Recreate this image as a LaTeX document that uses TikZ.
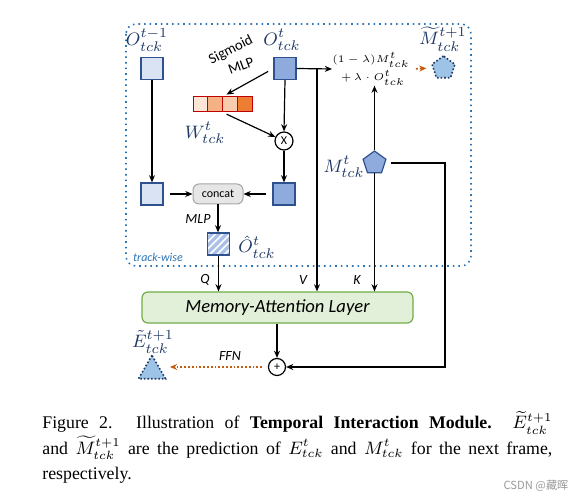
\documentclass[tikz,border=0pt]{standalone}
\usepackage{amsmath}
\usepackage{fontspec}
\setmainfont{Liberation Serif}
\newfontfamily\diagfont{Carlito}
\newfontfamily\cjkfont{Noto Sans CJK SC}
\usepackage{tikz}
\usetikzlibrary{shapes.geometric, arrows.meta, positioning, patterns.meta, calc}
\definecolor{featlight}{RGB}{218, 227, 243}
\definecolor{featmid}{RGB}{143, 170, 220}
\definecolor{feathatch}{RGB}{170, 192, 230}
\definecolor{featborder}{RGB}{47, 82, 143}
\definecolor{labelnavy}{RGB}{31, 56, 100}
\definecolor{trackblue}{RGB}{46, 117, 182}
\definecolor{predblue}{RGB}{157, 195, 230}
\definecolor{predorange}{RGB}{197, 90, 17}
\definecolor{layergreen}{RGB}{226, 240, 217}
\definecolor{layerborder}{RGB}{112, 173, 71}
\definecolor{concatgray}{RGB}{231, 230, 230}
\definecolor{wred}{RGB}{192, 0, 0}
\definecolor{wcellA}{RGB}{252, 228, 214}
\definecolor{wcellB}{RGB}{244, 177, 131}
\definecolor{wcellC}{RGB}{248, 203, 173}
\definecolor{wcellD}{RGB}{237, 125, 49}
\tikzset{
  featbox/.style={rectangle, draw=featborder, line width=0.6pt, fill=#1,
              minimum size=11pt, inner sep=0pt},
  featbox/.default=featlight,
  cellbox/.style={rectangle, draw=wred, line width=0.5pt, fill=#1,
              minimum width=7.4pt, minimum height=7.5pt, inner sep=0pt},
  opcircle/.style={circle, draw=black, line width=0.6pt, fill=white,
              minimum size=9pt, inner sep=0pt, font=\diagfont\fontsize{6}{6}\selectfont},
  predshape/.style={regular polygon, regular polygon sides=#1, draw=labelnavy,
              densely dotted, line width=0.8pt, fill=predblue, inner sep=0pt},
  symlabel/.style={text=labelnavy, inner sep=0pt, font=\fontsize{9.5}{11}\selectfont},
  tag/.style={font=\diagfont\itshape\fontsize{7}{8}\selectfont, inner sep=0pt},
  arrow/.style={-{Stealth[length=3.6pt, width=3pt]}, line width=0.6pt},
  predarrow/.style={-{Stealth[length=3.6pt, width=3pt]}, densely dotted,
              line width=0.9pt, draw=predorange},
}

\begin{document}
\begin{tikzpicture}[x=0.5pt, y=-0.5pt]
  \useasboundingbox (0,0) rectangle (585,501);
  % track-wise frame
  \draw[trackblue, dotted, line width=0.8pt, rounded corners=5pt] (126,24) rectangle (471,266);
  \node[text=trackblue, font=\diagfont\itshape\fontsize{6}{7}\selectfont, inner sep=0pt] (trk) at (158,257) {track-wise};

  \node[featbox] (oprev) at (152,68.5) {};
  \node[featbox=featmid] (ocur) at (285,68.5) {};
  \node[symlabel] (oprev_l) at (147,40) {$O^{t-1}_{tck}$};
  \node[symlabel] (ocur_l) at (282,40) {$O^{t}_{tck}$};

  \node[font=\diagfont\fontsize{7.3}{8}\selectfont, rotate=27, inner sep=0pt] (sig) at (231,50) {Sigmoid};
  \node[font=\diagfont\fontsize{7.3}{8}\selectfont, rotate=20, inner sep=0pt] (smlp) at (241,66) {MLP};

  \node[cellbox=wcellA] (w1) at (200.4,104.5) {};
  \node[cellbox=wcellB] (w2) at (215.1,104.5) {};
  \node[cellbox=wcellC] (w3) at (229.9,104.5) {};
  \node[cellbox=wcellD] (w4) at (244.6,104.5) {};
  \node[symlabel] (w_l) at (205,133) {$W^{t}_{tck}$};

  \node[opcircle] (mul) at (284,141) {X};

  \node[featbox] (lsq) at (152,194) {};
  \node[featbox=featmid] (rsq) at (284,194) {};
  \node[rectangle, rounded corners=3pt, draw=gray!70, fill=concatgray, line width=0.5pt,
        minimum width=25pt, minimum height=10pt, inner sep=0pt,
        font=\diagfont\fontsize{6}{7}\selectfont] (concat) at (218,194) {concat};
  \node[featbox=feathatch, postaction={pattern={Lines[angle=45, distance=2.6pt, line width=0.8pt]}, pattern color=white}] (ohat) at (218.5,244) {};
  \node[featbox, fill=none] (ohat_b) at (ohat) {};
  \node[symlabel] (ohat_l) at (257,247) {$\hat{O}^{t}_{tck}$};
  \node[tag] (mlp2) at (198,219) {MLP};

  \node[font=\fontsize{5.5}{7}\selectfont, align=center, inner sep=0pt] (upd) at (371,69)
        {$(1-\lambda)M^{t}_{tck}$\\$\;+\,\lambda\cdot O^{t}_{tck}$};
  \node[predshape=5, minimum size=12pt] (mnext) at (443.5,68) {};
  \node[symlabel] (mnext_l) at (443,39) {$\widetilde{M}^{t+1}_{tck}$};

  \node[regular polygon, regular polygon sides=5, draw=featborder, line width=0.6pt,
        fill=featmid, minimum size=12pt, inner sep=0pt] (mem) at (374.5,163) {};
  \node[symlabel] (mem_l) at (344,167) {$M^{t}_{tck}$};

  \node[rectangle, rounded corners=3pt, draw=layerborder, fill=layergreen, line width=0.6pt,
        minimum width=135.5pt, minimum height=15.5pt, inner sep=0pt,
        font=\diagfont\itshape\fontsize{9.3}{11}\selectfont] (layer) at (277.5,307.5) {Memory-Attention Layer};
  \node[tag] (q_l) at (205,280) {Q};
  \node[tag] (v_l) at (303,280) {V};
  \node[tag] (k_l) at (357,280) {K};

  \node[opcircle, minimum size=8.5pt] (add) at (277,367) {+};
  \node[predshape=3, minimum size=15.6pt] (enext) at (152,371) {};
  \node[symlabel] (enext_l) at (153,342) {$\tilde{E}^{t+1}_{tck}$};
  \node[tag] (ffn_l) at (230,356) {FFN};

  \coordinate (vsplit) at (317,68.5);
  \coordinate (mroute) at (445,163);

  \draw[arrow] (oprev.south) -- (lsq.north);
  \draw[arrow, shorten <=3pt, shorten >=2pt] (ocur.west) -- (w2.north east);
  \draw[arrow, shorten <=2pt] (w2.south east) -- (mul);
  \draw[arrow] (ocur.south) -- (mul.north);
  \draw[arrow] (mul.south) -- (rsq.north);
  \draw[arrow, shorten <=3pt] (lsq.east) -- (concat.west);
  \draw[arrow, shorten <=3pt] (rsq.west) -- (concat.east);
  \draw[arrow] (concat.south) -- (concat.south |- ohat.north);
  \draw[arrow] (ohat.south) -- (ohat.south |- layer.north);
  \draw[arrow] (ocur.east) -- (upd.west);
  \draw[arrow] (vsplit) -- (vsplit |- layer.north);
  \draw[arrow] (mem.north) -- (mem.north |- upd.south);
  \draw[arrow] (mem.south) -- (mem.south |- layer.north);
  \draw[predarrow, shorten <=3pt, shorten >=3pt] (upd.east) -- (mnext.west);
  \draw[arrow, shorten <=3pt] (mem.east) -- (mroute) |- (add.east);
  \draw[arrow] (layer.south -| add.north) -- (add.north);
  \draw[predarrow, shorten <=3pt, shorten >=4pt] (add.west) -- (enext.east |- add.west);

  % caption
  \node[anchor=north west, inner sep=0pt, text width=255pt, align=justify,
        font=\fontsize{8.9}{12.6}\selectfont] (cap) at (42,411)
        {Figure 2. Illustration of \textbf{Temporal Interaction Module.}\ \ $\widetilde{E}^{t+1}_{tck}$\linebreak
         and $\widetilde{M}^{t+1}_{tck}$ are the prediction of $E^{t}_{tck}$ and $M^{t}_{tck}$ for the next frame,\linebreak
         respectively.};
  \node[text=gray!80, font=\cjkfont\fontsize{5.6}{6}\selectfont, inner sep=0pt] (mark) at (536,486) {CSDN @藏晖};
\end{tikzpicture}
\end{document}
